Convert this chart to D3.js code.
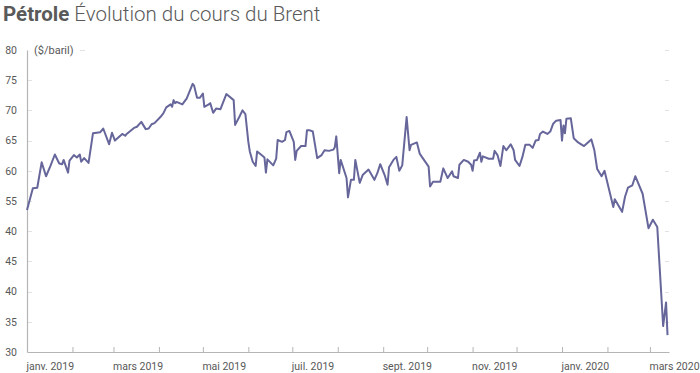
<!DOCTYPE html>
<html>
<head>
<meta charset="utf-8">
<script src="https://cdn.jsdelivr.net/npm/d3@7"></script>
<style>
  body { margin: 0; background: #fff; }
  svg { display: block; font-family: Roboto, "Noto Sans", sans-serif; }
</style>
</head>
<body>
<svg id="chart" width="700" height="373"></svg>
<script>
// ---- Data (Brent, $/baril) ----
const dates = [
  "2019-01-01","2019-01-05","2019-01-08","2019-01-11","2019-01-14","2019-01-17","2019-01-20","2019-01-23","2019-01-25","2019-01-26",
  "2019-01-29","2019-01-30","2019-02-02","2019-02-04","2019-02-06","2019-02-07","2019-02-09","2019-02-12","2019-02-15","2019-02-20",
  "2019-02-22","2019-02-26","2019-02-28","2019-03-02","2019-03-07","2019-03-09","2019-03-10","2019-03-15","2019-03-17","2019-03-20",
  "2019-03-23","2019-03-25","2019-03-27","2019-03-29","2019-04-02","2019-04-04","2019-04-06","2019-04-09","2019-04-10","2019-04-11",
  "2019-04-12","2019-04-13","2019-04-17","2019-04-20","2019-04-24","2019-04-25","2019-04-27","2019-04-29","2019-05-01","2019-05-02",
  "2019-05-05","2019-05-06","2019-05-08","2019-05-10","2019-05-13","2019-05-17","2019-05-22","2019-05-23","2019-05-26","2019-05-28",
  "2019-05-30","2019-06-01","2019-06-02","2019-06-04","2019-06-06","2019-06-07","2019-06-10","2019-06-12","2019-06-13","2019-06-14",
  "2019-06-18","2019-06-20","2019-06-21","2019-06-24","2019-06-26","2019-06-27","2019-06-29","2019-07-02","2019-07-03","2019-07-04",
  "2019-07-07","2019-07-10","2019-07-11","2019-07-13","2019-07-15","2019-07-18","2019-07-21","2019-07-23","2019-07-26","2019-07-29",
  "2019-07-30","2019-07-31","2019-08-02","2019-08-03","2019-08-07","2019-08-08","2019-08-10","2019-08-12","2019-08-13","2019-08-16",
  "2019-08-18","2019-08-22","2019-08-26","2019-08-28","2019-08-30","2019-09-02","2019-09-04","2019-09-05","2019-09-08","2019-09-10",
  "2019-09-12","2019-09-14","2019-09-17","2019-09-19","2019-09-20","2019-09-24","2019-09-26","2019-10-02","2019-10-03","2019-10-05",
  "2019-10-10","2019-10-12","2019-10-15","2019-10-18","2019-10-19","2019-10-22","2019-10-23","2019-10-26","2019-10-29","2019-10-31",
  "2019-11-01","2019-11-02","2019-11-04","2019-11-06","2019-11-07","2019-11-08","2019-11-12","2019-11-15","2019-11-16","2019-11-18",
  "2019-11-20","2019-11-22","2019-11-24","2019-11-27","2019-11-29","2019-11-30","2019-12-03","2019-12-05","2019-12-07","2019-12-10",
  "2019-12-12","2019-12-14","2019-12-16","2019-12-17","2019-12-19","2019-12-22","2019-12-24","2019-12-26","2019-12-28","2019-12-31",
  "2020-01-01","2020-01-02","2020-01-03","2020-01-04","2020-01-07","2020-01-09","2020-01-12","2020-01-16","2020-01-21","2020-01-23",
  "2020-01-25","2020-01-28","2020-01-30","2020-02-05","2020-02-06","2020-02-11","2020-02-13","2020-02-15","2020-02-18","2020-02-20",
  "2020-02-25","2020-02-29","2020-03-03","2020-03-06","2020-03-10","2020-03-12","2020-03-13"
];
const prices = [
  53.5,57.1,57.2,61.4,59.1,60.8,62.7,61.2,61.1,61.8,
  59.7,61.7,62.6,62.2,62.7,61.5,62.1,61.3,66.2,66.4,
  67.0,64.4,66.3,65.0,66.1,65.8,66.1,67.1,67.3,68.1,
  66.9,67.0,67.7,67.9,68.9,69.5,70.5,71.0,70.6,71.7,
  71.2,71.4,71.0,72.0,74.4,74.1,72.1,72.1,72.8,70.6,
  71.0,71.2,69.6,70.3,70.2,72.7,71.7,67.6,69.0,70.0,
  69.4,64.8,63.2,61.5,60.8,63.2,62.6,62.2,59.7,61.9,
  60.9,62.0,65.1,64.8,65.1,66.4,66.6,64.8,61.8,63.3,
  64.1,64.1,66.7,66.7,66.5,62.1,62.6,63.4,63.3,63.5,
  63.9,65.7,59.6,61.8,58.8,55.6,58.5,58.5,61.8,58.0,
  59.3,60.2,58.5,59.6,61.1,59.3,57.7,60.6,61.8,62.3,
  60.0,60.9,68.9,63.4,64.3,64.7,62.8,60.7,57.4,58.2,
  58.2,60.4,58.8,59.9,59.1,58.8,61.0,61.8,61.5,61.0,
  60.0,61.7,61.8,63.0,61.5,62.4,62.0,62.0,63.3,62.6,
  60.8,64.1,63.4,64.4,63.4,61.8,60.8,62.3,64.3,64.3,
  63.8,65.0,65.1,66.1,66.5,66.1,66.5,67.8,68.3,68.4,
  65.0,67.5,66.2,68.6,68.7,65.4,64.7,64.1,65.2,63.5,
  60.3,59.1,60.0,54.0,55.3,53.2,55.7,57.2,57.6,59.1,
  56.2,50.5,51.9,50.7,34.3,38.2,32.8
];

// Axis ticks and labels, as shown in the reference
const yTickValues = [30, 35, 40, 45, 50, 55, 60, 65, 70, 75, 80];
const yTickLabels = ["30", "35", "40", "45", "40", "55", "60", "65", "70", "75", "80"];
const xLabelDates = ["2019-01-01","2019-03-01","2019-05-01","2019-07-01","2019-09-01","2019-11-01","2020-01-01","2020-03-01"];
const xLabels = ["janv. 2019","mars 2019","mai 2019","juil. 2019","sept. 2019","nov. 2019","janv. 2020","mars 2020"];

const titleBold = "Pétrole";
const titleLight = "Évolution du cours du Brent";
const unitLabel = "($/baril)";

// ---- Drawing ----
(function () {
const parse = d3.utcParse("%Y-%m-%d");
const data = dates.map((d, i) => ({ date: parse(d), value: prices[i] }));
const labelMap = new Map(xLabelDates.map((d, i) => [+parse(d), xLabels[i]]));

const svg = d3.select("#chart");
const mLeft = 27, mRight = 669, mTop = 50, mBottom = 352;
const axisColor = "#b5b5b5";
const textColor = "#585858";
const lineColor = "#66669b";

const x = d3.scaleUtc()
  .domain([parse("2019-01-01"), parse("2020-03-14")])
  .range([mLeft, mRight]);
const y = d3.scaleLinear().domain([30, 80]).range([mBottom, mTop]);

// Title
const title = svg.append("text").attr("x", 3).attr("y", 21)
  .attr("font-size", 20.5).attr("fill", "#5a5a5a");
title.append("tspan").attr("font-weight", 700).text(titleBold);
title.append("tspan").attr("font-weight", 300).text(" " + titleLight);

// Faint gridline marks
const grid = svg.append("g").attr("stroke", "#e2e2e2").attr("stroke-width", 1);
grid.selectAll("line.l").data(yTickValues.slice(0, -1)).join("line")
  .attr("x1", mLeft + 1).attr("x2", mLeft + 5)
  .attr("y1", d => Math.round(y(d)) + 0.5).attr("y2", d => Math.round(y(d)) + 0.5);
grid.selectAll("line.r").data(yTickValues).join("line")
  .attr("x1", mRight - 4).attr("x2", mRight)
  .attr("y1", d => Math.round(y(d)) + 0.5).attr("y2", d => Math.round(y(d)) + 0.5);
grid.append("line").attr("x1", 80).attr("x2", 85)
  .attr("y1", Math.round(y(80)) + 0.5).attr("y2", Math.round(y(80)) + 0.5);

// Y axis
const yAxis = svg.append("g").attr("transform", `translate(${mLeft},0)`)
  .call(d3.axisLeft(y).tickValues(yTickValues).tickSize(0).tickPadding(10)
    .tickFormat((d, i) => yTickLabels[i]));
yAxis.select(".domain").attr("stroke", axisColor).attr("stroke-width", 1.2);
yAxis.selectAll("text").attr("fill", textColor).attr("font-size", 10.5)
  .attr("font-family", "Roboto, sans-serif");

// X axis
const xAxis = svg.append("g").attr("transform", `translate(0,${mBottom})`)
  .call(d3.axisBottom(x).ticks(d3.utcMonth.every(1)).tickSizeInner(-5).tickSizeOuter(0)
    .tickFormat(d => labelMap.get(+d) || ""));
xAxis.select(".domain").attr("stroke", axisColor).attr("stroke-width", 1.2);
xAxis.selectAll(".tick line").attr("stroke", axisColor);
xAxis.selectAll("text").attr("fill", textColor).attr("font-size", 10.5)
  .attr("font-family", "Roboto, sans-serif")
  .attr("text-anchor", "start").attr("x", -1).attr("y", 11);

// Unit label
svg.append("text").attr("x", 34).attr("y", y(80) + 4)
  .attr("font-size", 11).attr("fill", textColor).text(unitLabel);

// Price line
svg.append("path").datum(data)
  .attr("fill", "none").attr("stroke", lineColor).attr("stroke-width", 2)
  .attr("stroke-linejoin", "round")
  .attr("d", d3.line().x(d => x(d.date)).y(d => y(d.value)));
})();
</script>
</body>
</html>
